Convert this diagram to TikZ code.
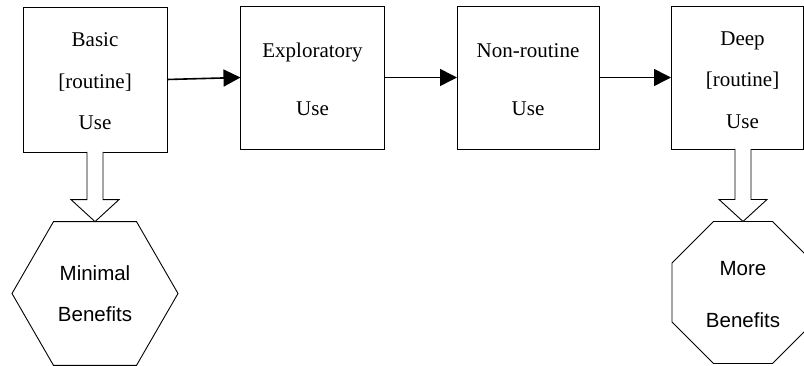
\documentclass[tikz,border=0pt]{standalone}
\usepackage{fontspec}
\setmainfont{Liberation Serif}
\newfontfamily\sansf{Liberation Sans}
\usetikzlibrary{arrows.meta,shapes.geometric,calc}
\tikzset{
  box/.style={draw=black, line width=0.9pt, rectangle, inner sep=0pt, outer sep=0pt,
    minimum width=144pt, minimum height=144pt},
  boxtext/.style={align=center, inner sep=0pt, font=\fontsize{21}{41.5}\selectfont},
  conn/.style={line width=1.6pt, -{Triangle[length=17pt,width=17pt]}},
  blk/.style={draw=black, line width=0.9pt, fill=white, line join=miter},
  benefit/.style={draw=black, line width=0.9pt, regular polygon, inner sep=0pt, outer sep=0pt},
  bentext/.style={align=center, inner sep=0pt, font=\sansf\fontsize{20.5}{41}\selectfont}
}
\begin{document}
\begin{tikzpicture}[x=1pt,y=-1pt]
\useasboundingbox (0,0) rectangle (804,366);
\clip (0,0) rectangle (804,366);
\node[box, minimum height=145pt] (b1) at (95,79.5) {};
\node[box, minimum height=143pt] (b2) at (312.5,77.5) {};
\node[box, minimum height=143pt, minimum width=142pt] (b3) at (528,77.5) {};
\node[box, minimum height=143pt, minimum width=132.5pt] (b4) at (737.25,77.5) {};
\node[boxtext] (b1t) at ($(b1)+(0,2)$) {Basic\\{}[routine]\\Use};
\node[boxtext] (b2t) at ($(b2)+(0,2)$) {Exploratory\\[16pt]Use};
\node[boxtext] (b3t) at ($(b3)+(0,2)$) {Non-routine\\[16pt]Use};
\node[boxtext] (b4t) at (742.5,80) {Deep\\{}[routine]\\Use};
\node[benefit, regular polygon sides=6, minimum size=166pt] (h1) at (95,293.5) {};
\node[benefit, regular polygon sides=8, minimum size=153.7pt] (o1) at (743,292.5) {};
\node[bentext] (h1t) at (h1) {Minimal\\Benefits};
\node[bentext, font=\sansf\fontsize{20.5}{52}\selectfont] (o1t) at ($(o1)+(0,2)$) {More\\Benefits};
\draw[conn] (b1.east) -- (b2.west);
\draw[conn] (b2.east) -- (b3.west);
\draw[conn] (b3.east) -- (b4.west);
\coordinate (s1) at (h1.north |- b1.south);
\coordinate (s4) at (o1.north |- b4.south);
\draw[blk] ($(s1)+(-8,0)$) -- ($(h1.north)+(-8,-22)$) -- ($(h1.north)+(-24,-22)$)
  -- (h1.north) -- ($(h1.north)+(24,-22)$) -- ($(h1.north)+(8,-22)$) -- ($(s1)+(8,0)$);
\draw[blk] ($(s4)+(-8,0)$) -- ($(o1.north)+(-8,-22)$) -- ($(o1.north)+(-24,-22)$)
  -- (o1.north) -- ($(o1.north)+(24,-22)$) -- ($(o1.north)+(8,-22)$) -- ($(s4)+(8,0)$);
\end{tikzpicture}
\end{document}
